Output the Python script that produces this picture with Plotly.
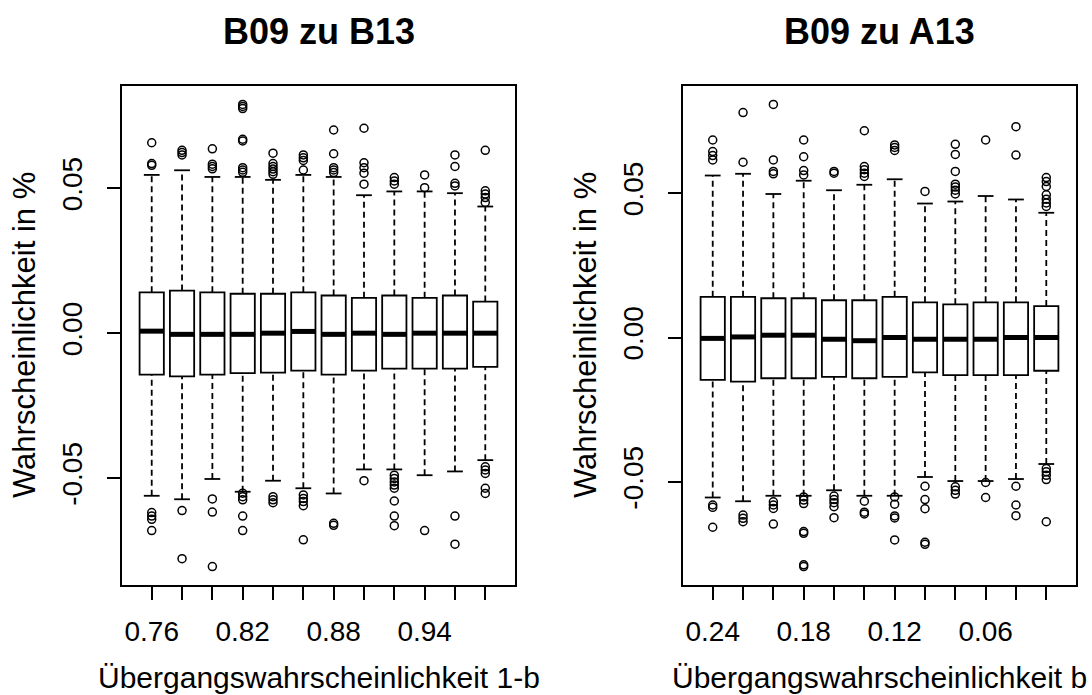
import plotly.graph_objects as go

# ---------------- data ----------------
left_title = "B09 zu B13"
right_title = "B09 zu A13"
left_xlabel = "Übergangswahrscheinlichkeit 1-b"
right_xlabel = "Übergangswahrscheinlichkeit b"
ylabel = "Wahrscheinlichkeit in %"

left_cats = ["0.76", "0.78", "0.80", "0.82", "0.84", "0.86", "0.88", "0.90", "0.92", "0.94", "0.96", "0.98"]
right_cats = ["0.24", "0.22", "0.20", "0.18", "0.16", "0.14", "0.12", "0.10", "0.08", "0.06", "0.04", "0.02"]

y_tickvals = [-0.05, 0.0, 0.05]
y_ticktext = ["-0.05", "0.00", "0.05"]

# Left panel: B09 zu B13
left_q1 = [-0.0143, -0.0149, -0.0143, -0.0138, -0.0136, -0.0129, -0.0143, -0.0129, -0.0122, -0.0122, -0.0122, -0.0116]
left_med = [0.0007, -0.0004, -0.0004, -0.0004, 0.0000, 0.0006, -0.0004, 0.0000, -0.0004, 0.0000, 0.0000, 0.0000]
left_q3 = [0.0141, 0.0147, 0.0141, 0.0136, 0.0136, 0.0141, 0.0130, 0.0122, 0.0130, 0.0122, 0.0130, 0.0109]
left_lo = [-0.0561, -0.0573, -0.0503, -0.0547, -0.0509, -0.0535, -0.0553, -0.0470, -0.0470, -0.0490, -0.0477, -0.0438]
left_hi = [0.0546, 0.0562, 0.0539, 0.0539, 0.0529, 0.0546, 0.0539, 0.0476, 0.0489, 0.0489, 0.0483, 0.0437]
left_out = [
    [0.0657, 0.0585, 0.0579, -0.0619, -0.0631, -0.0642, -0.0681],
    [0.0631, 0.0623, 0.0615, -0.0612, -0.0778],
    [0.0636, 0.0583, 0.0575, 0.0567, -0.0572, -0.0617, -0.0805],
    [0.0789, 0.0782, 0.0775, 0.0669, 0.0663, 0.0571, 0.0563, 0.0555, -0.0552, -0.0564, -0.0575, -0.0631, -0.0681],
    [0.0621, 0.0585, 0.0575, 0.0566, 0.0557, 0.0548, -0.0564, -0.0575, -0.0585],
    [0.0615, 0.0605, 0.0596, 0.0563, -0.0558, -0.0570, -0.0581, -0.0595, -0.0713],
    [0.0701, 0.0619, 0.0571, 0.0563, 0.0554, -0.0656, -0.0663],
    [0.0707, 0.0588, 0.0571, 0.0552, 0.0514, -0.0509],
    [0.0537, 0.0525, 0.0514, -0.0490, -0.0501, -0.0513, -0.0524, -0.0535, -0.0579, -0.0631, -0.0664],
    [0.0546, 0.0502, -0.0681],
    [0.0615, 0.0575, 0.0517, 0.0508, -0.0631, -0.0728],
    [0.0631, 0.0491, 0.0480, 0.0468, 0.0451, -0.0461, -0.0472, -0.0484, -0.0535, -0.0553],
]

# Right panel: B09 zu A13
right_q1 = [-0.0147, -0.0153, -0.0141, -0.0141, -0.0136, -0.0141, -0.0136, -0.0121, -0.0130, -0.0130, -0.0130, -0.0115]
right_med = [-0.0003, 0.0002, 0.0008, 0.0008, -0.0006, -0.0011, 0.0000, -0.0006, -0.0006, -0.0006, 0.0000, 0.0000]
right_q3 = [0.0141, 0.0141, 0.0136, 0.0136, 0.0129, 0.0129, 0.0141, 0.0122, 0.0115, 0.0122, 0.0122, 0.0109]
right_lo = [-0.0554, -0.0567, -0.0548, -0.0548, -0.0529, -0.0548, -0.0548, -0.0483, -0.0497, -0.0497, -0.0490, -0.0438]
right_hi = [0.0561, 0.0567, 0.0497, 0.0543, 0.0510, 0.0529, 0.0548, 0.0464, 0.0471, 0.0490, 0.0478, 0.0432]
right_out = [
    [0.0684, 0.0644, 0.0630, 0.0615, -0.0580, -0.0588, -0.0657],
    [0.0779, 0.0607, -0.0615, -0.0626, -0.0638],
    [0.0807, 0.0615, 0.0575, 0.0567, -0.0569, -0.0580, -0.0592, -0.0646],
    [0.0684, 0.0626, 0.0578, 0.0563, -0.0552, -0.0563, -0.0575, -0.0672, -0.0678, -0.0787, -0.0793],
    [0.0575, 0.0569, -0.0549, -0.0561, -0.0572, -0.0586, -0.0624],
    [0.0716, 0.0592, 0.0581, 0.0569, 0.0558, -0.0567, -0.0605, -0.0611],
    [0.0667, 0.0658, 0.0648, -0.0552, -0.0577, -0.0618, -0.0625, -0.0701],
    [0.0506, -0.0515, -0.0561, -0.0593, -0.0709, -0.0716],
    [0.0669, 0.0634, 0.0575, 0.0531, 0.0521, 0.0510, 0.0497, -0.0517, -0.0529, -0.0542],
    [0.0684, -0.0502, -0.0554],
    [0.0730, 0.0632, -0.0515, -0.0580, -0.0617],
    [0.0554, 0.0540, 0.0523, 0.0494, 0.0479, 0.0466, 0.0454, -0.0454, -0.0465, -0.0477, -0.0492, -0.0638],
]

# ---------------- figure ----------------
FONT = "Liberation Sans, Arial, sans-serif"
BOXWEX = 0.8
STAPLE_HALF = 0.26
LW = 1.8

fig = go.Figure()


def add_panel(cats, q1, med, q3, lo, hi, outs, xa, ya):
    pos = list(range(1, len(cats) + 1))
    fig.add_trace(go.Box(
        x=pos, q1=q1, median=med, q3=q3, lowerfence=q1, upperfence=q3,
        width=BOXWEX, boxpoints=False, fillcolor="white",
        line=dict(color="black", width=LW), whiskerwidth=0,
        xaxis=xa, yaxis=ya, showlegend=False, hoverinfo="skip"))
    # whiskers (dashed)
    wx, wy = [], []
    for p, a, b, c, d in zip(pos, lo, q1, q3, hi):
        wx += [p, p, None, p, p, None]
        wy += [a, b, None, c, d, None]
    fig.add_trace(go.Scatter(x=wx, y=wy, mode="lines",
                             line=dict(color="black", width=LW, dash="6px,4px"),
                             xaxis=xa, yaxis=ya, showlegend=False, hoverinfo="skip"))
    # staples
    sx, sy = [], []
    for p, a, d in zip(pos, lo, hi):
        sx += [p - STAPLE_HALF, p + STAPLE_HALF, None, p - STAPLE_HALF, p + STAPLE_HALF, None]
        sy += [a, a, None, d, d, None]
    fig.add_trace(go.Scatter(x=sx, y=sy, mode="lines",
                             line=dict(color="black", width=LW),
                             xaxis=xa, yaxis=ya, showlegend=False, hoverinfo="skip"))
    # medians
    mx, my = [], []
    for p, m in zip(pos, med):
        mx += [p - BOXWEX / 2, p + BOXWEX / 2, None]
        my += [m, m, None]
    fig.add_trace(go.Scatter(x=mx, y=my, mode="lines",
                             line=dict(color="black", width=5),
                             xaxis=xa, yaxis=ya, showlegend=False, hoverinfo="skip"))
    # outliers
    ox, oy = [], []
    for p, vals in zip(pos, outs):
        ox += [p] * len(vals)
        oy += vals
    fig.add_trace(go.Scatter(x=ox, y=oy, mode="markers",
                             marker=dict(symbol="circle-open", size=8, color="black",
                                         line=dict(width=1.5, color="black")),
                             xaxis=xa, yaxis=ya, showlegend=False, hoverinfo="skip"))
    allv = lo + hi + [v for vs in outs for v in vs]
    vmin, vmax = min(allv), max(allv)
    ext = 0.04 * (vmax - vmin)
    return [vmin - ext, vmax + ext]


yr_left = add_panel(left_cats, left_q1, left_med, left_q3, left_lo, left_hi, left_out, "x", "y")
yr_right = add_panel(right_cats, right_q1, right_med, right_q3, right_lo, right_hi, right_out, "x2", "y2")

W, H = 1092, 695
L_dom = [122 / W, 515 / W]
R_dom = [683 / W, 1076 / W]
Y_dom = [(H - 585) / H, (H - 86) / H]

n = len(left_cats)
xr = [0.5 - 0.04 * n, n + 0.5 + 0.04 * n]

tick_font = dict(family=FONT, size=28, color="black")


def xaxis_cfg(dom, cats):
    return dict(domain=dom, range=xr, tickmode="array", tickvals=list(range(1, n + 1)),
                ticktext=[c if i % 3 == 0 else "" for i, c in enumerate(cats)],
                ticks="outside", ticklen=13, tickwidth=1.5, tickcolor="black",
                showline=True, linecolor="black", linewidth=1.5, mirror=True,
                showgrid=False, zeroline=False, tickfont=tick_font,
                ticklabelstandoff=8, fixedrange=True)


def yaxis_cfg(dom, rng, anchor):
    return dict(domain=dom, range=rng, tickmode="array", tickvals=y_tickvals, ticktext=y_ticktext,
                ticks="outside", ticklen=13, tickwidth=1.5, tickcolor="black", tickangle=-90,
                showline=True, linecolor="black", linewidth=1.5, mirror=True,
                showgrid=False, zeroline=False, tickfont=tick_font, anchor=anchor,
                ticklabelstandoff=14, fixedrange=True)


fig.update_layout(
    width=W, height=H, margin=dict(l=0, r=0, t=0, b=0),
    paper_bgcolor="white", plot_bgcolor="white",
    xaxis=xaxis_cfg(L_dom, left_cats),
    yaxis=yaxis_cfg(Y_dom, yr_left, "x"),
    xaxis2=xaxis_cfg(R_dom, right_cats) | dict(anchor="y2"),
    yaxis2=yaxis_cfg(Y_dom, yr_right, "x2"),
    showlegend=False,
)
fig.layout.xaxis.anchor = "y"

ann = []
for dom, title, xl, ytx in [(L_dom, left_title, left_xlabel, 24), (R_dom, right_title, right_xlabel, 585)]:
    cx = (dom[0] + dom[1]) / 2
    ann.append(dict(text="<b>%s</b>" % title, x=cx, y=1 - 32 / H, xref="paper", yref="paper",
                    xanchor="center", yanchor="middle", showarrow=False,
                    font=dict(family=FONT, size=36, color="black")))
    ann.append(dict(text=xl, x=cx, y=1 - 677 / H, xref="paper", yref="paper",
                    xanchor="center", yanchor="middle", showarrow=False,
                    font=dict(family=FONT, size=30, color="black")))
    ann.append(dict(text=ylabel, x=ytx / W, y=1 - 335 / H, xref="paper", yref="paper",
                    xanchor="center", yanchor="middle", showarrow=False, textangle=-90,
                    font=dict(family=FONT, size=31, color="black")))
fig.update_layout(annotations=ann)

fig.write_html("out.html", config={"displayModeBar": False})
